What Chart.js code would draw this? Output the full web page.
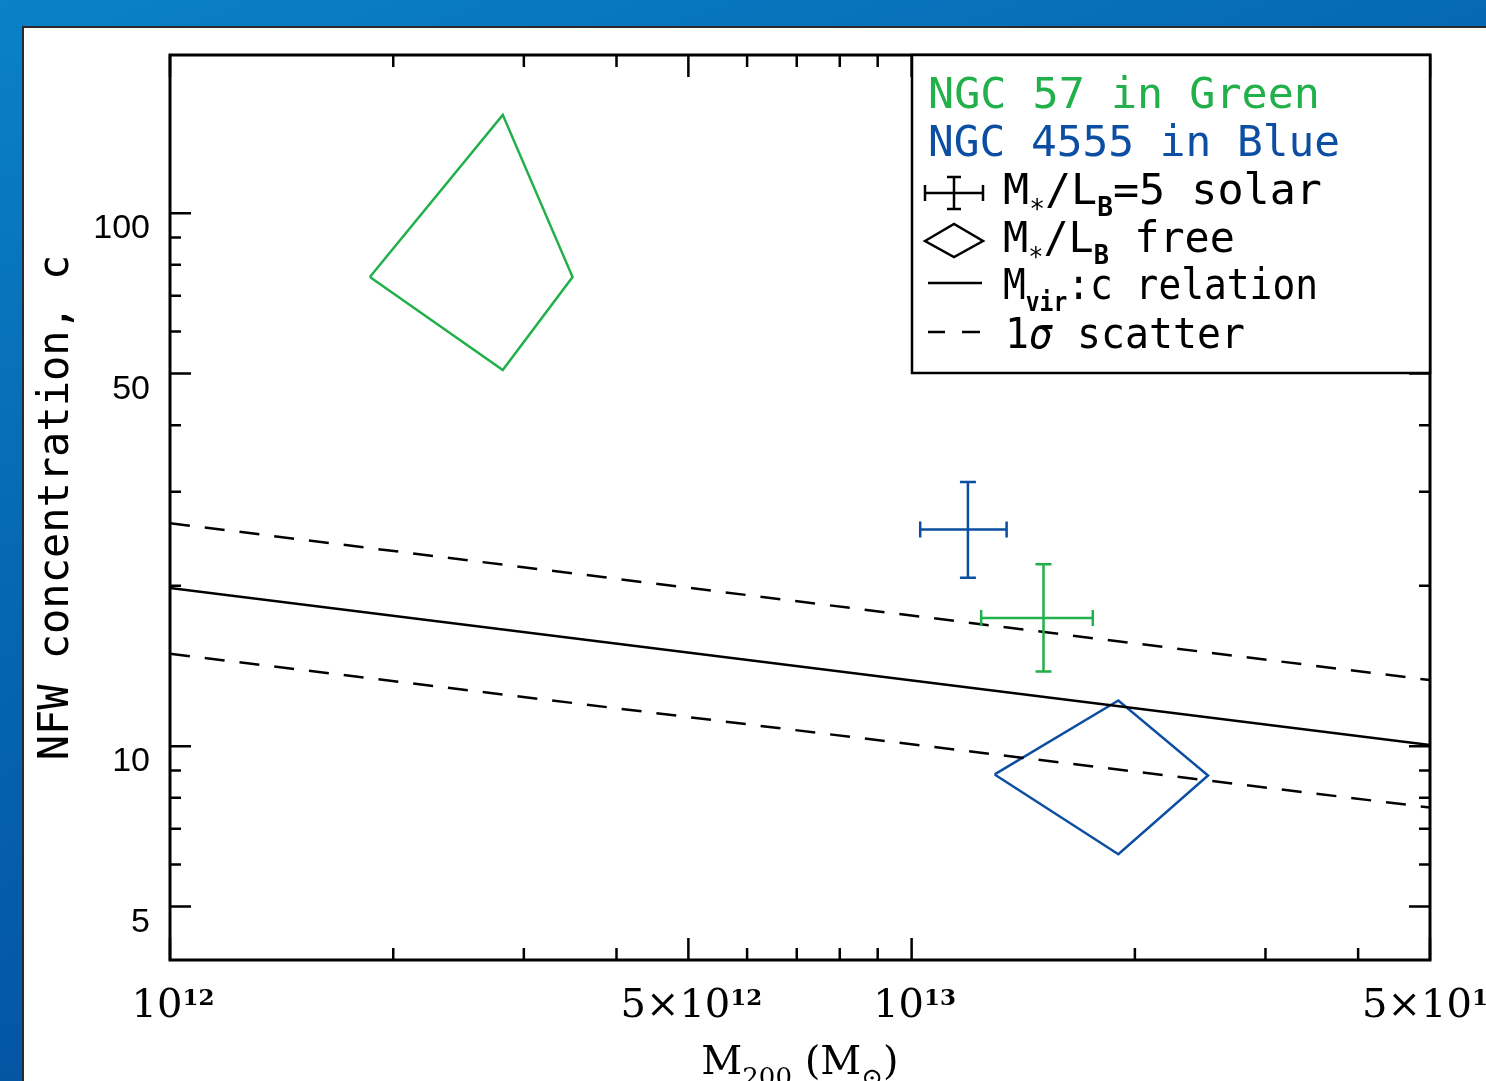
<!DOCTYPE html>
<html>
<head>
<meta charset="utf-8">
<script src="https://cdn.jsdelivr.net/npm/chart.js@4/dist/chart.umd.min.js"></script>
<style>
  html, body { margin: 0; padding: 0; }
  body {
    width: 1486px; height: 1081px; overflow: hidden; position: relative;
    background: linear-gradient(160deg, #0a82c8 0%, #0568b2 35%, #0454a2 70%, #04489a 100%);
  }
  #panel {
    position: absolute; left: 22px; top: 26px; right: -10px; bottom: -10px;
    background: #fff; border-left: 2px solid #2a2a2a; border-top: 2px solid #2a2a2a;
  }
  #chart { position: absolute; left: 0; top: 0; }
</style>
</head>
<body>
<div id="panel"></div>
<canvas id="chart" width="1486" height="1081"></canvas>
<script>
/* ---- dados ---- */
// relação Mvir:c e espalhamento 1 sigma
const relMass  = [1e12, 5e13];
const relConc  = [19.8, 10.05];
const relUpper = [26.2, 13.3];
const relLower = [14.9, 7.67];

// M*/LB livre (contornos)
const greenDiamondX = [1.86e12, 2.81e12, 3.49e12, 2.81e12, 1.86e12];
const greenDiamondY = [75.9, 152.9, 75.9, 50.8, 75.9];
const blueDiamondX  = [1.294e13, 1.90e13, 2.51e13, 1.90e13, 1.294e13];
const blueDiamondY  = [8.85, 12.18, 8.81, 6.27, 8.85];

// M*/LB = 5 solar (barras de erro): [x, xLo, xHi, y, yLo, yHi]
const greenCross = [1.506e13, 1.241e13, 1.755e13, 17.4, 13.8, 21.95];
const blueCross  = [1.191e13, 1.027e13, 1.343e13, 25.5, 20.7, 31.3];

// eixos
const xMajor = [1e12, 5e12, 1e13, 5e13];
const xMajorLabels = [["10", "12"], ["5\u00d710", "12"], ["10", "13"], ["5\u00d710", "13"]];
const xMinor = [2e12, 3e12, 4e12, 6e12, 7e12, 8e12, 9e12, 2e13, 3e13, 4e13];
const yMajor = [5, 10, 50, 100];
const yMajorLabels = ["5", "10", "50", "100"];
const yMinor = [6, 7, 8, 9, 20, 30, 40, 60, 70, 80, 90];

const GREEN = "#22b04b";
const BLUE = "#0b4ea2";
const MONO = "'DejaVu Sans Mono', monospace";
const SERIF = "'DejaVu Serif', serif";
const LW = 2.5;

function pts(xs, ys) { return xs.map((x, i) => ({ x: x, y: ys[i] })); }

function lineDs(data, color, dash) {
    return {
        data: data, showLine: true, borderColor: color, borderWidth: LW,
        borderDash: dash || [], pointRadius: 0, fill: false, tension: 0
    };
}

function partsWidth(ctx, parts) {
    let w = 0;
    parts.forEach(p => { ctx.font = p[1]; w += ctx.measureText(p[0]).width; });
    return w;
}

// desenha texto com partes (subscritos etc.); largura opcional
function drawParts(ctx, x, y, parts, color, width) {
    const natural = partsWidth(ctx, parts);
    const k = width ? width / natural : 1;
    ctx.save();
    ctx.translate(x, y);
    ctx.scale(k, 1);
    ctx.fillStyle = color;
    ctx.textAlign = "left";
    ctx.textBaseline = "alphabetic";
    let cx = 0;
    parts.forEach(p => {
        ctx.font = p[1];
        ctx.fillText(p[0], cx, p[2] || 0);
        cx += ctx.measureText(p[0]).width;
    });
    ctx.restore();
}

function drawCross(ctx, sx, sy, c, color) {
    const px = sx.getPixelForValue(c[0]), pxLo = sx.getPixelForValue(c[1]), pxHi = sx.getPixelForValue(c[2]);
    const py = sy.getPixelForValue(c[3]), pyLo = sy.getPixelForValue(c[4]), pyHi = sy.getPixelForValue(c[5]);
    const cap = 8;
    ctx.strokeStyle = color;
    ctx.lineWidth = LW;
    ctx.beginPath();
    ctx.moveTo(pxLo, py); ctx.lineTo(pxHi, py);
    ctx.moveTo(px, pyLo); ctx.lineTo(px, pyHi);
    ctx.moveTo(pxLo, py - cap); ctx.lineTo(pxLo, py + cap);
    ctx.moveTo(pxHi, py - cap); ctx.lineTo(pxHi, py + cap);
    ctx.moveTo(px - cap, pyLo); ctx.lineTo(px + cap, pyLo);
    ctx.moveTo(px - cap, pyHi); ctx.lineTo(px + cap, pyHi);
    ctx.stroke();
}

const idlPlot = {
    id: "idlPlot",
    afterDatasetsDraw(chart) {
        const ctx = chart.ctx;
        const a = chart.chartArea;
        const sx = chart.scales.x, sy = chart.scales.y;
        ctx.save();

        // barras de erro
        drawCross(ctx, sx, sy, blueCross, BLUE);
        drawCross(ctx, sx, sy, greenCross, GREEN);

        // moldura
        ctx.strokeStyle = "#000";
        ctx.lineWidth = 3;
        ctx.strokeRect(a.left, a.top, a.right - a.left, a.bottom - a.top);

        // marcas para dentro
        ctx.lineWidth = LW;
        ctx.beginPath();
        xMajor.concat(xMinor).forEach(v => {
            const len = xMajor.includes(v) ? 22 : 12;
            const p = sx.getPixelForValue(v);
            ctx.moveTo(p, a.bottom); ctx.lineTo(p, a.bottom - len);
            ctx.moveTo(p, a.top); ctx.lineTo(p, a.top + len);
        });
        yMajor.concat(yMinor).forEach(v => {
            const len = yMajor.includes(v) ? 21 : 11;
            const p = sy.getPixelForValue(v);
            ctx.moveTo(a.left, p); ctx.lineTo(a.left + len, p);
            ctx.moveTo(a.right, p); ctx.lineTo(a.right - len, p);
        });
        ctx.stroke();

        // rótulos eixo y
        ctx.fillStyle = "#000";
        ctx.font = "34px 'Liberation Sans', Arial, sans-serif";
        ctx.textAlign = "right";
        ctx.textBaseline = "alphabetic";
        yMajor.forEach((v, i) => {
            ctx.fillText(yMajorLabels[i], 150, sy.getPixelForValue(v) + 25);
        });

        // rótulos eixo x (com expoente)
        xMajor.forEach((v, i) => {
            const parts = [[xMajorLabels[i][0], "40px " + SERIF, 0], [xMajorLabels[i][1], "bold 23px " + SERIF, -12]];
            const w = partsWidth(ctx, parts);
            drawParts(ctx, sx.getPixelForValue(v) - w / 2 + 3, 1017, parts, "#000");
        });

        // título eixo x
        const xt = [["M", "40px " + SERIF, 0], ["200", "26px " + SERIF, 12], [" (M", "40px " + SERIF, 0],
                    ["\u2299", "26px " + SERIF, 12], [")", "40px " + SERIF, 0]];
        drawParts(ctx, (a.left + a.right) / 2 - partsWidth(ctx, xt) / 2, 1074, xt, "#000");

        // título eixo y
        ctx.save();
        ctx.translate(68, (a.top + a.bottom) / 2);
        ctx.rotate(-Math.PI / 2);
        ctx.font = "42px " + MONO;
        ctx.fillStyle = "#000";
        ctx.textAlign = "center";
        ctx.fillText("NFW concentration, c", 0, 0);
        ctx.restore();

        // legenda
        const lx = 912, ly = a.top;
        ctx.fillStyle = "#fff";
        ctx.fillRect(lx, ly, a.right - lx, 373 - ly);
        ctx.strokeStyle = "#000";
        ctx.lineWidth = LW;
        ctx.strokeRect(lx, ly, a.right - lx, 373 - ly);

        const big = "43px " + MONO, sub = "bold 26px " + MONO, star = "26px " + MONO;
        drawParts(ctx, 928, 108, [["NGC 57 in Green", big]], GREEN, 392);
        drawParts(ctx, 928, 156, [["NGC 4555 in Blue", big]], BLUE, 412);
        drawParts(ctx, 1003, 204, [["M", big], ["*", star, 14], ["/L", big], ["B", sub, 12], ["=5 solar", big]], "#000", 319);
        drawParts(ctx, 1003, 252, [["M", big], ["*", star, 14], ["/L", big], ["B", sub, 12], [" free", big]], "#000", 232);
        drawParts(ctx, 1003, 299, [["M", big], ["vir", sub, 12], [":c relation", big]], "#000", 315);
        drawParts(ctx, 1005, 348, [["1", big], ["\u03c3", "italic 43px " + MONO], [" scatter", big]], "#000", 240);

        // símbolos da legenda
        ctx.strokeStyle = "#000";
        ctx.lineWidth = LW;
        ctx.beginPath();
        ctx.moveTo(925, 193); ctx.lineTo(983, 193);
        ctx.moveTo(925, 185); ctx.lineTo(925, 201);
        ctx.moveTo(983, 185); ctx.lineTo(983, 201);
        ctx.moveTo(954, 177); ctx.lineTo(954, 209);
        ctx.moveTo(947, 177); ctx.lineTo(961, 177);
        ctx.moveTo(947, 209); ctx.lineTo(961, 209);
        ctx.moveTo(925, 241); ctx.lineTo(954, 224); ctx.lineTo(983, 241); ctx.lineTo(954, 257); ctx.closePath();
        ctx.moveTo(928, 283); ctx.lineTo(982, 283);
        ctx.moveTo(928, 332); ctx.lineTo(945, 332);
        ctx.moveTo(962, 332); ctx.lineTo(980, 332);
        ctx.stroke();

        ctx.restore();
    }
};

new Chart(document.getElementById("chart"), {
    type: "scatter",
    data: {
        datasets: [
            lineDs(pts(relMass, relConc), "#000"),
            lineDs(pts(relMass, relUpper), "#000", [20, 15]),
            lineDs(pts(relMass, relLower), "#000", [20, 15]),
            lineDs(pts(greenDiamondX, greenDiamondY), GREEN),
            lineDs(pts(blueDiamondX, blueDiamondY), BLUE)
        ]
    },
    options: {
        responsive: false,
        animation: false,
        events: [],
        layout: { padding: { left: 170, right: 56, top: 55, bottom: 121 } },
        plugins: { legend: { display: false }, tooltip: { enabled: false } },
        scales: {
            x: { type: "logarithmic", min: 1e12, max: 5e13, display: false },
            y: { type: "logarithmic", min: 3.97, max: 198, display: false }
        }
    },
    plugins: [idlPlot]
});
</script>
</body>
</html>
